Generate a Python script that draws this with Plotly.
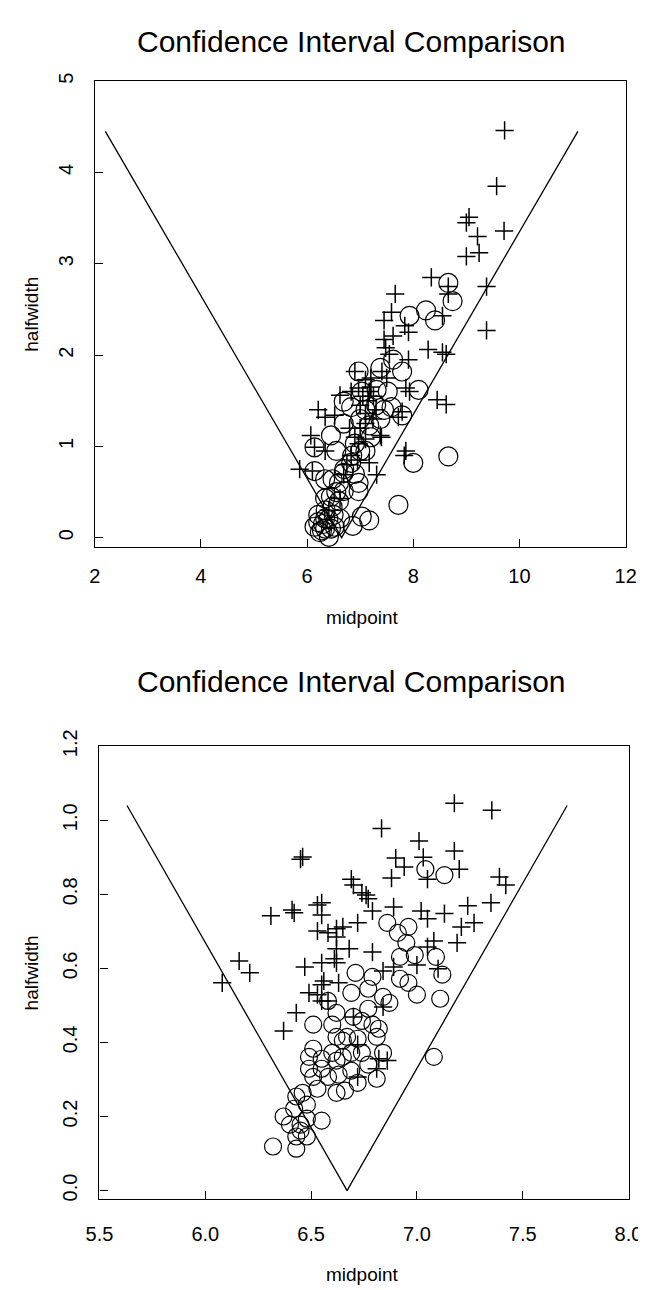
import plotly.graph_objects as go

# ---------------- data: top panel ----------------
top_plus_x = [9.72, 9.57, 9.05, 9.0, 9.21, 9.71, 9.0, 9.24, 8.34, 8.66, 9.38, 7.66, 8.66, 7.59, 7.45,
              8.55, 9.38, 7.84, 7.91, 7.45, 7.62, 7.48, 7.55, 8.28, 8.55, 7.91, 8.62, 6.90, 7.10, 7.41,
              6.97, 7.17, 6.83, 6.62, 7.93, 7.86, 8.45, 8.62, 6.21, 6.34, 6.52, 7.10, 7.24, 7.79, 7.72,
              6.07, 6.14, 6.34, 7.10, 7.38, 5.86, 6.10, 7.86, 7.83, 7.31, 6.69, 6.83, 6.97, 7.17, 6.62,
              6.41, 7.0, 7.05, 7.15, 7.2, 7.25, 7.1, 7.0, 6.9, 7.3, 6.95, 6.75, 7.4, 7.2, 6.8, 7.5]
top_plus_y = [4.46, 3.85, 3.51, 3.45, 3.30, 3.36, 3.08, 3.12, 2.85, 2.75, 2.75, 2.67, 2.67, 2.47, 2.38,
              2.43, 2.27, 2.32, 2.25, 2.17, 2.21, 2.08, 2.01, 2.06, 2.03, 1.95, 2.01, 1.82, 1.73, 1.82,
              1.64, 1.60, 1.60, 1.56, 1.60, 1.64, 1.51, 1.46, 1.40, 1.32, 1.34, 1.36, 1.30, 1.38, 1.32,
              1.12, 0.99, 0.95, 1.08, 1.12, 0.75, 0.73, 0.95, 0.90, 0.69, 0.69, 0.90, 1.03, 0.82, 0.43,
              0.30, 1.45, 1.55, 1.50, 1.65, 1.55, 1.25, 1.20, 1.10, 1.40, 0.85, 0.80, 1.10, 1.75, 1.20, 1.75]

top_circ_x = [8.66, 8.74, 8.24, 7.93, 8.41, 7.62, 7.38, 6.97, 7.79, 8.10, 7.52, 7.31, 7.03, 6.69, 6.83,
              7.59, 7.79, 7.38, 6.69, 7.17, 6.14, 6.45, 6.55, 6.90, 7.10, 6.83, 8.0, 8.66, 6.14, 6.34,
              6.48, 6.69, 6.97, 6.97, 6.69, 6.34, 6.48, 7.72, 6.21, 6.34, 7.17, 7.03, 6.86, 6.21, 6.14,
              6.34, 6.41, 6.52, 6.24, 6.62, 6.6, 6.7, 6.85, 7.0, 6.55, 6.45, 6.9, 7.2, 7.3, 7.1, 6.3,
              6.4, 6.35, 6.5, 6.28, 6.45, 6.6, 7.0, 7.45]
top_circ_y = [2.79, 2.59, 2.49, 2.43, 2.38, 1.95, 1.86, 1.82, 1.82, 1.62, 1.60, 1.62, 1.60, 1.49, 1.43,
              1.43, 1.34, 1.30, 1.25, 1.23, 0.99, 1.12, 0.95, 1.03, 0.95, 0.82, 0.82, 0.89, 0.73, 0.64,
              0.64, 0.71, 0.60, 0.51, 0.51, 0.43, 0.34, 0.36, 0.25, 0.21, 0.19, 0.23, 0.13, 0.17, 0.12,
              0.10, 0.01, 0.12, 0.06, 0.21, 0.60, 0.75, 0.90, 0.95, 0.50, 0.45, 0.70, 1.10, 1.45, 1.40,
              0.15, 0.20, 0.30, 0.25, 0.08, 0.10, 0.40, 1.30, 1.40]

top_v_x = [2.2, 6.65, 11.1]
top_v_y = [4.45, 0.0, 4.45]

# ---------------- data: bottom panel ----------------
bot_plus_x = [7.177, 7.354, 6.833, 7.010, 6.46, 6.45, 6.90, 7.177, 7.03, 6.94, 7.20, 6.88, 7.05, 6.69,
              6.70, 7.39, 7.42, 6.74, 6.76, 6.77, 7.35, 6.31, 6.41, 6.42, 6.53, 6.55, 6.55, 6.79, 6.89,
              7.02, 7.05, 7.13, 7.24, 7.27, 7.21, 6.53, 6.58, 6.62, 6.65, 6.72, 6.62, 6.62, 6.68, 6.79,
              7.08, 7.05, 7.19, 6.61, 6.62, 6.55, 6.47, 6.16, 6.21, 6.08, 6.84, 6.89, 7.0, 7.10, 6.56,
              6.55, 6.63, 6.49, 6.53, 6.55, 6.58, 6.84, 6.43, 6.37, 6.82, 6.86, 6.81, 6.72, 6.70, 6.72]
bot_plus_y = [1.046, 1.027, 0.978, 0.944, 0.901, 0.895, 0.898, 0.917, 0.900, 0.874, 0.868, 0.844, 0.841,
              0.841, 0.825, 0.847, 0.825, 0.804, 0.798, 0.788, 0.777, 0.742, 0.758, 0.750, 0.771, 0.777,
              0.744, 0.755, 0.766, 0.755, 0.734, 0.748, 0.769, 0.723, 0.712, 0.701, 0.696, 0.707, 0.712,
              0.723, 0.685, 0.653, 0.653, 0.644, 0.674, 0.658, 0.669, 0.626, 0.615, 0.615, 0.604, 0.620,
              0.588, 0.561, 0.593, 0.604, 0.609, 0.599, 0.566, 0.556, 0.561, 0.534, 0.529, 0.512, 0.512,
              0.496, 0.480, 0.431, 0.356, 0.351, 0.329, 0.394, 0.469, 0.307]

bot_circ_x = [7.13, 7.04, 6.86, 6.91, 6.96, 6.95, 6.99, 6.92, 7.09, 7.12, 6.96, 6.92, 6.71, 6.79, 7.0,
              7.11, 6.69, 6.77, 6.84, 6.87, 6.58, 6.62, 6.70, 6.74, 6.79, 6.82, 6.51, 6.60, 6.65, 6.72,
              6.81, 6.62, 6.51, 6.49, 6.60, 6.55, 6.65, 6.74, 6.84, 6.49, 6.55, 6.62, 6.58, 6.63, 6.69,
              6.77, 6.81, 6.72, 6.62, 6.66, 6.53, 7.08, 6.46, 6.43, 6.48, 6.42, 6.55, 6.48, 6.40, 6.45,
              6.43, 6.48, 6.32, 6.43, 6.45, 6.37, 6.51, 6.67, 6.69, 6.77]
bot_circ_y = [0.852, 0.868, 0.723, 0.696, 0.712, 0.669, 0.636, 0.631, 0.631, 0.583, 0.561, 0.572, 0.588,
              0.577, 0.529, 0.518, 0.534, 0.545, 0.523, 0.507, 0.512, 0.480, 0.469, 0.458, 0.448, 0.437,
              0.448, 0.448, 0.405, 0.410, 0.415, 0.415, 0.383, 0.361, 0.372, 0.356, 0.361, 0.372, 0.372,
              0.329, 0.329, 0.351, 0.307, 0.313, 0.324, 0.340, 0.302, 0.291, 0.264, 0.270, 0.275, 0.361,
              0.264, 0.254, 0.232, 0.221, 0.189, 0.194, 0.178, 0.178, 0.146, 0.146, 0.119, 0.113, 0.162,
              0.200, 0.307, 0.415, 0.372, 0.491]

bot_v_x = [5.63, 6.67, 7.71]
bot_v_y = [1.04, 0.0, 1.04]

title_text = "Confidence Interval Comparison"
x_label = "midpoint"
y_label = "halfwidth"

top_xticks = [2, 4, 6, 8, 10, 12]
top_yticks = [0, 1, 2, 3, 4, 5]
bot_xticks = [5.5, 6.0, 6.5, 7.0, 7.5, 8.0]
bot_yticks = [0.0, 0.2, 0.4, 0.6, 0.8, 1.0, 1.2]

# ---------------- figure ----------------
W, H = 646, 1290
FONT = "Liberation Sans, Arial, Helvetica, sans-serif"


def px_x(p):
    return p / W


def px_y(p):
    return 1 - p / H


fig = go.Figure()

plus_marker = dict(symbol="cross-thin-open", size=13, color="black",
                   line=dict(color="black", width=1.5))


def circ_marker(sz):
    return dict(symbol="circle-open", size=sz, color="black",
                line=dict(color="black", width=1.2))


line_style = dict(color="black", width=1.3)

fig.add_trace(go.Scatter(x=top_v_x, y=top_v_y, mode="lines", line=line_style,
                         xaxis="x", yaxis="y", showlegend=False, hoverinfo="skip"))
fig.add_trace(go.Scatter(x=top_circ_x, y=top_circ_y, mode="markers", marker=circ_marker(19),
                         xaxis="x", yaxis="y", showlegend=False))
fig.add_trace(go.Scatter(x=top_plus_x, y=top_plus_y, mode="markers", marker=plus_marker,
                         xaxis="x", yaxis="y", showlegend=False))

fig.add_trace(go.Scatter(x=bot_v_x, y=bot_v_y, mode="lines", line=line_style,
                         xaxis="x2", yaxis="y2", showlegend=False, hoverinfo="skip"))
fig.add_trace(go.Scatter(x=bot_circ_x, y=bot_circ_y, mode="markers", marker=circ_marker(17),
                         xaxis="x2", yaxis="y2", showlegend=False))
fig.add_trace(go.Scatter(x=bot_plus_x, y=bot_plus_y, mode="markers", marker=plus_marker,
                         xaxis="x2", yaxis="y2", showlegend=False))

axis_common = dict(showgrid=False, zeroline=False, showline=True, linecolor="black", linewidth=1.2,
                   mirror=True, ticks="inside", ticklen=8, tickcolor="black", tickwidth=1.2,
                   tickfont=dict(family=FONT, size=20, color="black"))

# panel boxes (pixels)
top_box = dict(l=76, r=631, t=57, b=530)
bot_box = dict(l=81, r=634, t=732, b=1192)

fig.update_layout(
    width=W, height=H, margin=dict(l=0, r=0, t=0, b=0),
    paper_bgcolor="white", plot_bgcolor="white",
    font=dict(family=FONT, color="black"),
    xaxis=dict(domain=[px_x(top_box["l"]), px_x(top_box["r"])], range=[2, 12],
               tickvals=top_xticks, ticktext=[str(v) for v in top_xticks],
               anchor="y", ticklabelstandoff=11, **axis_common),
    yaxis=dict(domain=[px_y(top_box["b"]), px_y(top_box["t"])], range=[-0.104, 5.0],
               tickvals=top_yticks, ticktext=[str(v) for v in top_yticks],
               tickangle=-90, anchor="x", ticklabelstandoff=13, **axis_common),
    xaxis2=dict(domain=[px_x(bot_box["l"]), px_x(bot_box["r"])], range=[5.5, 8.0],
                tickvals=bot_xticks, ticktext=[f"{v:.1f}" for v in bot_xticks],
                anchor="y2", ticklabelstandoff=16, **axis_common),
    yaxis2=dict(domain=[px_y(bot_box["b"]), px_y(bot_box["t"])], range=[-0.024, 1.2],
                tickvals=bot_yticks, ticktext=[f"{v:.1f}" for v in bot_yticks],
                tickangle=-90, anchor="x2", ticklabelstandoff=13, **axis_common),
)

ann = []
for box, ty, my in ((top_box, 17, 601), (bot_box, 666, 1268)):
    cy = (box["t"] + box["b"]) / 2
    ann.append(dict(text=title_text, x=px_x(344), y=px_y(ty), xref="paper", yref="paper",
                    showarrow=False, xanchor="center", yanchor="middle",
                    font=dict(family=FONT, size=30, color="black")))
    ann.append(dict(text=x_label, x=px_x(356), y=px_y(my), xref="paper", yref="paper",
                    showarrow=False, xanchor="center", yanchor="middle",
                    font=dict(family=FONT, size=19, color="black")))
    ann.append(dict(text=y_label, x=px_x(10), y=px_y(cy), xref="paper", yref="paper",
                    showarrow=False, xanchor="center", yanchor="middle", textangle=-90,
                    font=dict(family=FONT, size=19, color="black")))
fig.update_layout(annotations=ann)

fig.write_html("out.html")
